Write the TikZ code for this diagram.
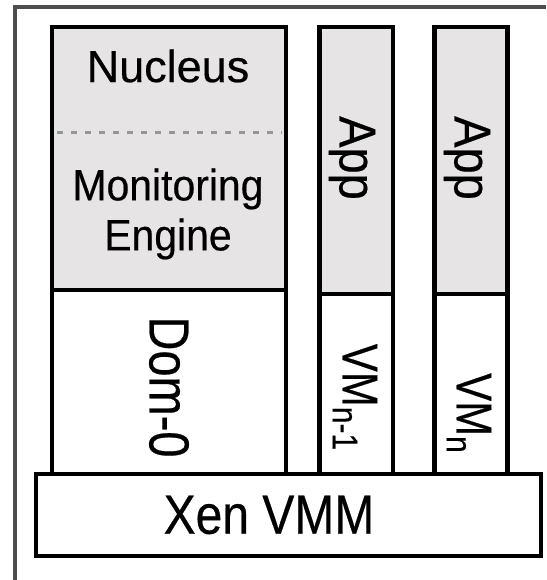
\documentclass[tikz,border=0pt]{standalone}
\usepackage{fontspec}
\setmainfont{Liberation Sans}[FakeBold=0.4]
\begin{document}
\begin{tikzpicture}[x=1pt,y=-1pt,
  box/.style={draw=black,line width=4.3pt,rectangle,inner sep=0pt,outer sep=0pt,anchor=north west},
  graybox/.style={box,fill=boxgray},
  whitebox/.style={box,fill=white},
  lbl/.style={inner sep=0pt,outer sep=0pt,text=black},
  ]
\definecolor{boxgray}{RGB}{230,228,228}
\definecolor{framegray}{RGB}{77,77,77}
\definecolor{dashgray}{RGB}{150,150,150}
\useasboundingbox (0,0) rectangle (546,580);
% outer frame (only top and left visible)
\coordinate (ftl) at (15,7);
\coordinate (ftr) at (546,7);
\coordinate (fbl) at (15,580);
\draw[framegray,line width=4.5pt] (fbl) -- (ftl) -- (ftr);
% Dom-0 column
\node[whitebox,minimum width=234pt,minimum height=200pt] (dom) at (52,290) {};
\node[graybox,minimum width=234pt,minimum height=263pt] (nuc) at (52,27) {};
% VM n-1 column
\node[whitebox,minimum width=73.5pt,minimum height=196pt] (vma) at (319.5,294) {};
\node[graybox,minimum width=73.5pt,minimum height=267pt] (appa) at (319.5,27) {};
% VM n column
\node[whitebox,minimum width=73pt,minimum height=196pt] (vmb) at (434.5,294) {};
\node[graybox,minimum width=73pt,minimum height=267pt] (appb) at (434.5,27) {};
% Xen
\node[whitebox,minimum width=504.7pt,minimum height=82.3pt] (xen) at (36,474) {};
% dashed separator
\coordinate (dl) at (57,133);
\coordinate (dr) at (282,133);
\draw[dashgray,line width=3pt,dash pattern=on 6pt off 8pt] (dl) -- (dr);
% texts
\node[lbl] (tnuc) at (168,66) {\fontsize{45}{50}\selectfont Nucleus};
\node[lbl] (tmon) at (168,189) {\fontsize{44}{50}\selectfont\scalebox{0.93}[1]{Monitoring}};
\node[lbl] (teng) at (168,239) {\fontsize{44}{50}\selectfont\scalebox{0.93}[1]{Engine}};
\node[lbl,rotate=-90] (tappa) at (352,158) {\fontsize{47}{50}\selectfont\scalebox{1}[1.1]{App}};
\node[lbl,rotate=-90] (tappb) at (467,158) {\fontsize{47}{50}\selectfont\scalebox{1}[1.1]{App}};
\node[lbl,rotate=-90] (tdom) at (169,387) {\fontsize{47}{50}\selectfont\scalebox{1}[1.2]{Dom-0}};
\node[lbl,rotate=-90] (tvma) at (355,397) {\fontsize{42}{50}\selectfont\scalebox{1}[1.2]{VM\raisebox{-0.2em}{\fontsize{30}{30}\selectfont n-1}}};
\node[lbl,rotate=-90] (tvmb) at (469,413) {\fontsize{42}{50}\selectfont\scalebox{1}[1.2]{VM\raisebox{-0.2em}{\fontsize{30}{30}\selectfont n}}};
\node[lbl] (txen) at (269,515) {\fontsize{48}{50}\selectfont\scalebox{1}[1.15]{Xen VMM}};
\end{tikzpicture}
\end{document}
